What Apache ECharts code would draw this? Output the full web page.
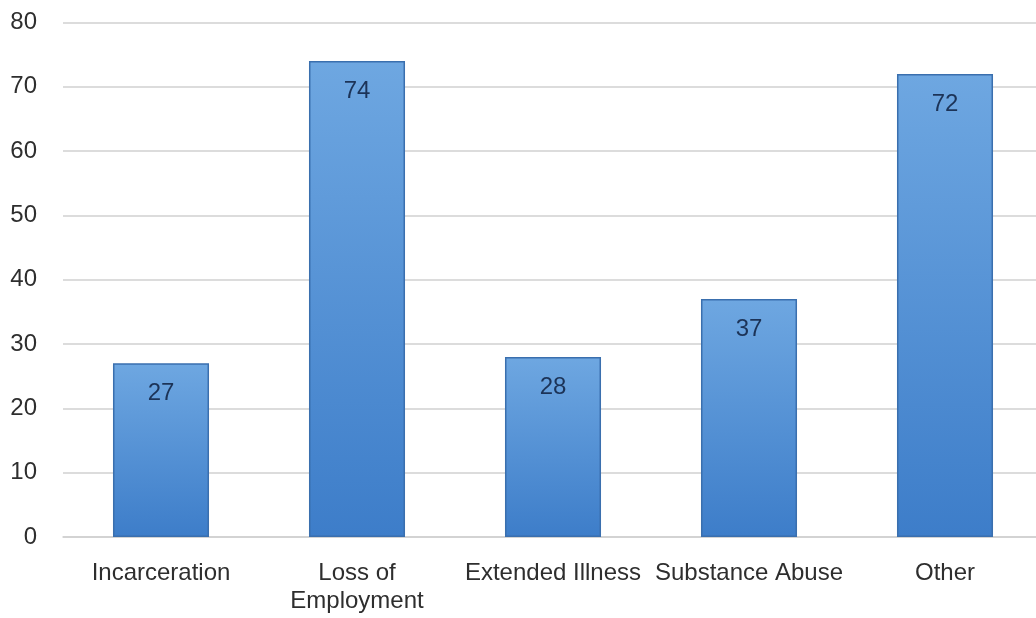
<!DOCTYPE html>
<html>
<head>
<meta charset="utf-8">
<script src="https://cdn.jsdelivr.net/npm/echarts@6/dist/echarts.min.js"></script>
<style>
  html, body { margin: 0; padding: 0; background: #ffffff; overflow: hidden; }
  #chart { width: 1036px; height: 618px; }
</style>
</head>
<body>
<div id="chart"></div>
<script>
// Reasons reported, with counts per reason
const categories = ['Incarceration', 'Loss of\nEmployment', 'Extended Illness', 'Substance Abuse', 'Other'];
const counts = [27, 74, 28, 37, 72];
const yTicks = { min: 0, max: 80, interval: 10 };

const chart = echarts.init(document.getElementById('chart'), null, { renderer: 'canvas' });

const FONT = '"Liberation Sans", Arial, sans-serif';

chart.setOption({
  animation: false,
  backgroundColor: '#ffffff',
  // plot area runs slightly past the right edge of the canvas
  grid: {
    left: 63, width: 980, top: 22.5, bottom: 81,
    containLabel: false,
    outerBoundsMode: 'none'
  },
  xAxis: {
    type: 'category',
    data: categories,
    axisLine: { show: true, lineStyle: { color: '#d0d0d0', width: 1.5 } },
    axisTick: { show: false },
    axisLabel: {
      interval: 0,
      margin: 22,
      color: '#2e2e2e',
      fontFamily: FONT,
      fontSize: 24,
      lineHeight: 28
    }
  },
  yAxis: {
    type: 'value',
    min: yTicks.min,
    max: yTicks.max,
    interval: yTicks.interval,
    axisLine: { show: false },
    axisTick: { show: false },
    splitLine: { lineStyle: { color: '#d0d0d0', width: 1.5 } },
    axisLabel: {
      margin: 26,
      color: '#2e2e2e',
      fontFamily: FONT,
      fontSize: 24
    }
  },
  series: [{
    type: 'bar',
    data: counts,
    barWidth: '49%',
    itemStyle: {
      color: new echarts.graphic.LinearGradient(0, 0, 0, 1, [
        { offset: 0, color: '#6ea7e1' },
        { offset: 1, color: '#3d7dc9' }
      ]),
      borderColor: '#3a6fae',
      borderWidth: 1.5
    },
    label: {
      show: true,
      position: 'insideTop',
      distance: 18,
      color: '#1c3357',
      fontFamily: FONT,
      fontSize: 24
    }
  }]
});
</script>
</body>
</html>
